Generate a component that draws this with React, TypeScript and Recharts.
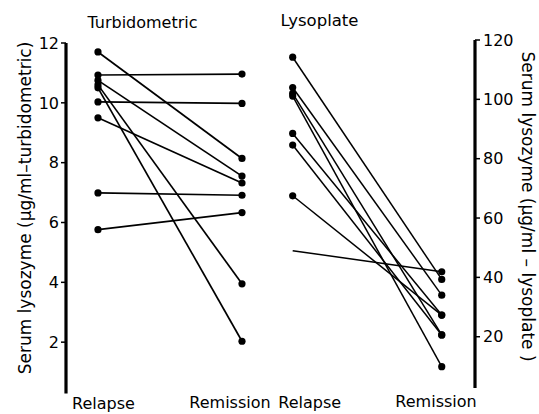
import React from 'react';
import { LineChart, Line, XAxis, YAxis, ReferenceLine } from 'recharts';

// ---- data ----
const categories = ['Relapse', 'Remission', 'Relapse', 'Remission'];
const panelTitles = ['Turbidometric', 'Lysoplate'];
const turbRelapse = [11.7, 10.93, 10.75, 10.6, 10.5, 10.03, 9.5, 6.99, 5.76];
const turbRemission = [8.14, 10.96, 7.55, 3.95, 2.03, 9.98, 7.32, 6.91, 6.33];
const lysoRelapse = [114.2, 104.0, 102.0, 101.1, 88.5, 84.6, 67.5, 49.0];
const lysoRemission = [39.3, 34.0, 20.6, 9.9, 27.3, 20.6, 27.3, 41.9];
const lysoNoDot = [7];
const turbTicks = [2, 4, 6, 8, 10, 12];
const lysoTicks = [20, 40, 60, 80, 100, 120];
const leftTitle = 'Serum lysozyme (\u00b5g/ml\u2013turbidometric)';
const rightTitle = 'Serum lysozyme (\u00b5g/ml \u2013 lysoplate )';

// ---- layout ----
const W = 539;
const H = 414;
const catPos = [0, 1, 1.352, 2.387];
const xDomain: [number, number] = [-0.222, 2.618];
const tickDx = [5.5, -12, 17, -5.7];
const tickDy = [7, 5.5, 6, 4.5];
const FONT = '"DejaVu Sans", sans-serif';

const turbSeries = turbRelapse.map((v, i) => [
  { x: catPos[0], y: v },
  { x: catPos[1], y: turbRemission[i] },
]);
const lysoSeries = lysoRelapse.map((v, i) => [
  { x: catPos[2], y: v },
  { x: catPos[3], y: lysoRemission[i] },
]);

const XTick = (props: any) => {
  const { x, y, payload, index } = props;
  const i = catPos.indexOf(payload.value);
  const k = i >= 0 ? i : index;
  return (
    <text x={x + tickDx[k]} y={y + tickDy[k]} textAnchor="middle" fontSize={16} fill="#000" fontFamily={FONT}>
      {categories[k]}
    </text>
  );
};

const makeDot = (skip: boolean) => (props: any) => {
  const { cx, cy, index } = props;
  if (skip && index === 0) return <g key={`nd-${cx}-${cy}`} />;
  return <circle key={`d-${cx}-${cy}-${index}`} cx={cx} cy={cy} r={3.6} fill="#000" stroke="none" />;
};

export default function App() {
  return (
    <div style={{ position: 'absolute', left: 0, top: 0, width: W, height: H, background: '#fff', fontFamily: FONT }}>
      <LineChart width={W} height={H} margin={{ top: 40, right: 0, bottom: 0, left: 0 }}>
        <XAxis
          xAxisId="x"
          type="number"
          dataKey="x"
          domain={xDomain}
          ticks={catPos}
          allowDataOverflow
          axisLine={false}
          tickLine={false}
          tickSize={0}
          tickMargin={0}
          height={12}
          interval={0}
          tick={<XTick />}
        />
        <YAxis
          yAxisId="left"
          orientation="left"
          type="number"
          domain={[0, 12.1]}
          ticks={turbTicks}
          allowDataOverflow
          width={66}
          axisLine={false}
          tickLine={{ stroke: '#000', strokeWidth: 1.5 }}
          tickSize={5}
          tickMargin={2}
          tick={{ fill: '#000', fontSize: 16, fontFamily: FONT }}
          label={{
            content: (p: any) => {
              const vb = p.viewBox;
              const cx = 25;
              const cy = vb.y + vb.height / 2 - 13;
              return (
                <text x={cx} y={cy} transform={`rotate(-90 ${cx} ${cy})`} textAnchor="middle" dominantBaseline="central" fontSize={17} fill="#000" fontFamily={FONT}>
                  {leftTitle}
                </text>
              );
            },
          }}
        />
        <YAxis
          yAxisId="right"
          orientation="right"
          type="number"
          domain={[-2, 120]}
          ticks={lysoTicks}
          allowDataOverflow
          width={64}
          axisLine={false}
          tickLine={{ stroke: '#000', strokeWidth: 1.5 }}
          tickSize={5}
          tickMargin={3}
          tick={{ fill: '#000', fontSize: 16, fontFamily: FONT }}
          label={{
            content: (p: any) => {
              const cx = 528;
              const cy = 206.5;
              return (
                <text x={cx} y={cy} transform={`rotate(90 ${cx} ${cy})`} textAnchor="middle" dominantBaseline="central" fontSize={17} fill="#000" fontFamily={FONT}>
                  {rightTitle}
                </text>
              );
            },
          }}
        />
        <ReferenceLine
          xAxisId="x"
          yAxisId="left"
          segment={[{ x: xDomain[0], y: 0.28 }, { x: xDomain[0], y: 12 }]}
          stroke="#000"
          strokeWidth={3.2}
          ifOverflow="visible"
        />
        <ReferenceLine
          xAxisId="x"
          yAxisId="right"
          segment={[{ x: xDomain[1], y: 2.7 }, { x: xDomain[1], y: 120 }]}
          stroke="#000"
          strokeWidth={3.2}
          ifOverflow="visible"
        />
        {turbSeries.map((d, i) => (
          <Line
            key={`t${i}`}
            xAxisId="x"
            yAxisId="left"
            data={d}
            dataKey="y"
            type="linear"
            stroke="#000"
            strokeWidth={1.7}
            dot={makeDot(false)}
            activeDot={false}
            isAnimationActive={false}
          />
        ))}
        {lysoSeries.map((d, i) => (
          <Line
            key={`l${i}`}
            xAxisId="x"
            yAxisId="right"
            data={d}
            dataKey="y"
            type="linear"
            stroke="#000"
            strokeWidth={1.5}
            dot={makeDot(lysoNoDot.includes(i))}
            activeDot={false}
            isAnimationActive={false}
          />
        ))}
        <text x={142.5} y={28} textAnchor="middle" fontSize={16} fill="#000" fontFamily={FONT}>
          {panelTitles[0]}
        </text>
        <text x={319.5} y={26} textAnchor="middle" fontSize={16.5} fill="#000" fontFamily={FONT}>
          {panelTitles[1]}
        </text>
      </LineChart>
    </div>
  );
}
